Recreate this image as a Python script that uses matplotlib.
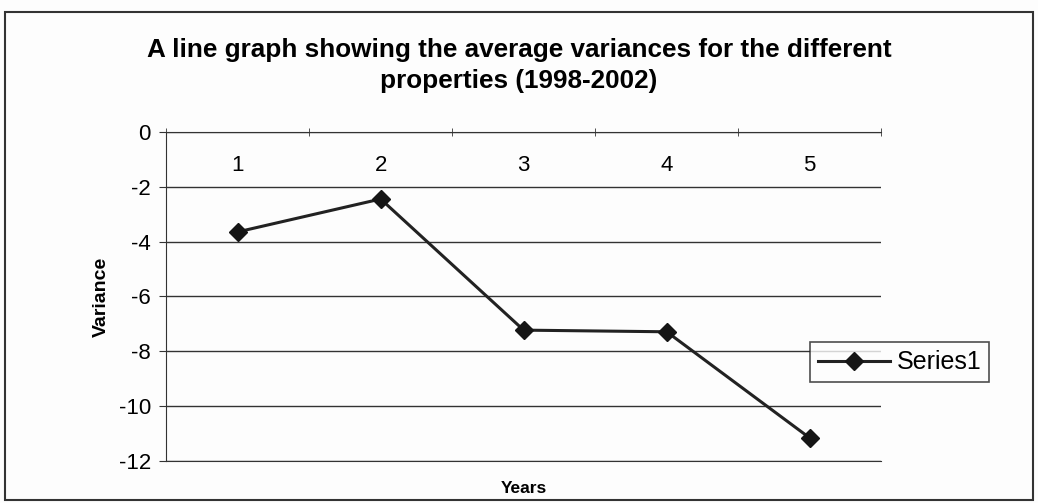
import matplotlib
matplotlib.use('Agg')
import matplotlib.pyplot as plt
from matplotlib.patches import Rectangle

plt.rcParams['font.family'] = ['Liberation Sans', 'DejaVu Sans']

# data
years = ['1', '2', '3', '4', '5']
variance = [-3.65, -2.45, -7.23, -7.29, -11.16]
y_ticks = [0, -2, -4, -6, -8, -10, -12]

title = 'A line graph showing the average variances for the different\nproperties (1998-2002)'

fig = plt.figure(figsize=(10.38, 5.03), dpi=100)
fig.patch.set_facecolor('#fdfdfd')
ax = fig.add_axes([0.160, 0.0835, 0.689, 0.6545])
ax.set_facecolor('#fdfdfd')

x = list(range(len(years)))
ax.plot(x, variance, color='#222222', linewidth=2.2, marker='D', markersize=9.5,
        markerfacecolor='#151515', markeredgecolor='#151515', label='Series1')

ax.set_ylim(-12, 0)
ax.set_xlim(-0.5, len(years) - 0.5)
ax.set_yticks(y_ticks)
ax.set_yticklabels([str(v) for v in y_ticks], fontsize=16)
ax.yaxis.grid(True, color='#333333', linewidth=1)
ax.set_axisbelow(True)

# category axis sits on y = 0 (top), labels hang below it
ax.set_xticks(x)
ax.set_xticklabels(years, fontsize=16)
ax.set_xticks([i - 0.5 for i in range(len(years) + 1)], minor=True)
ax.tick_params(axis='x', which='major', top=True, bottom=False, labeltop=True,
               labelbottom=False, length=0, pad=-32)
ax.tick_params(axis='x', which='minor', top=True, bottom=False, length=6,
               direction='inout', color='#333333')
ax.tick_params(axis='y', length=5, direction='out', color='#333333', pad=6)

ax.spines['right'].set_visible(False)
for side in ['top', 'left', 'bottom']:
    ax.spines[side].set_color('#333333')

ax.set_ylabel('Variance', fontsize=14, fontweight='bold', labelpad=6)
ax.set_xlabel('Years', fontsize=12.5, fontweight='bold', labelpad=8)
ax.xaxis.set_label_position('bottom')

fig.suptitle(title, fontsize=18.8, fontweight='bold', y=0.925, linespacing=1.38)

leg = ax.legend(loc='upper left', bbox_to_anchor=(0.90, 0.36), borderaxespad=0,
                fontsize=18, frameon=True, fancybox=False, handlelength=2.9,
                borderpad=0.32, handletextpad=0.25)
leg.get_frame().set_edgecolor('#222222')
leg.get_frame().set_linewidth(1.2)
leg.get_frame().set_facecolor('#fdfdfd')
leg.set_clip_on(False)

# outer chart border
fig.patches.append(Rectangle((0.005, 0.006), 0.99, 0.970, transform=fig.transFigure,
                             fill=False, edgecolor='#333333', linewidth=1.5))

fig.savefig('out.png', dpi=100)
